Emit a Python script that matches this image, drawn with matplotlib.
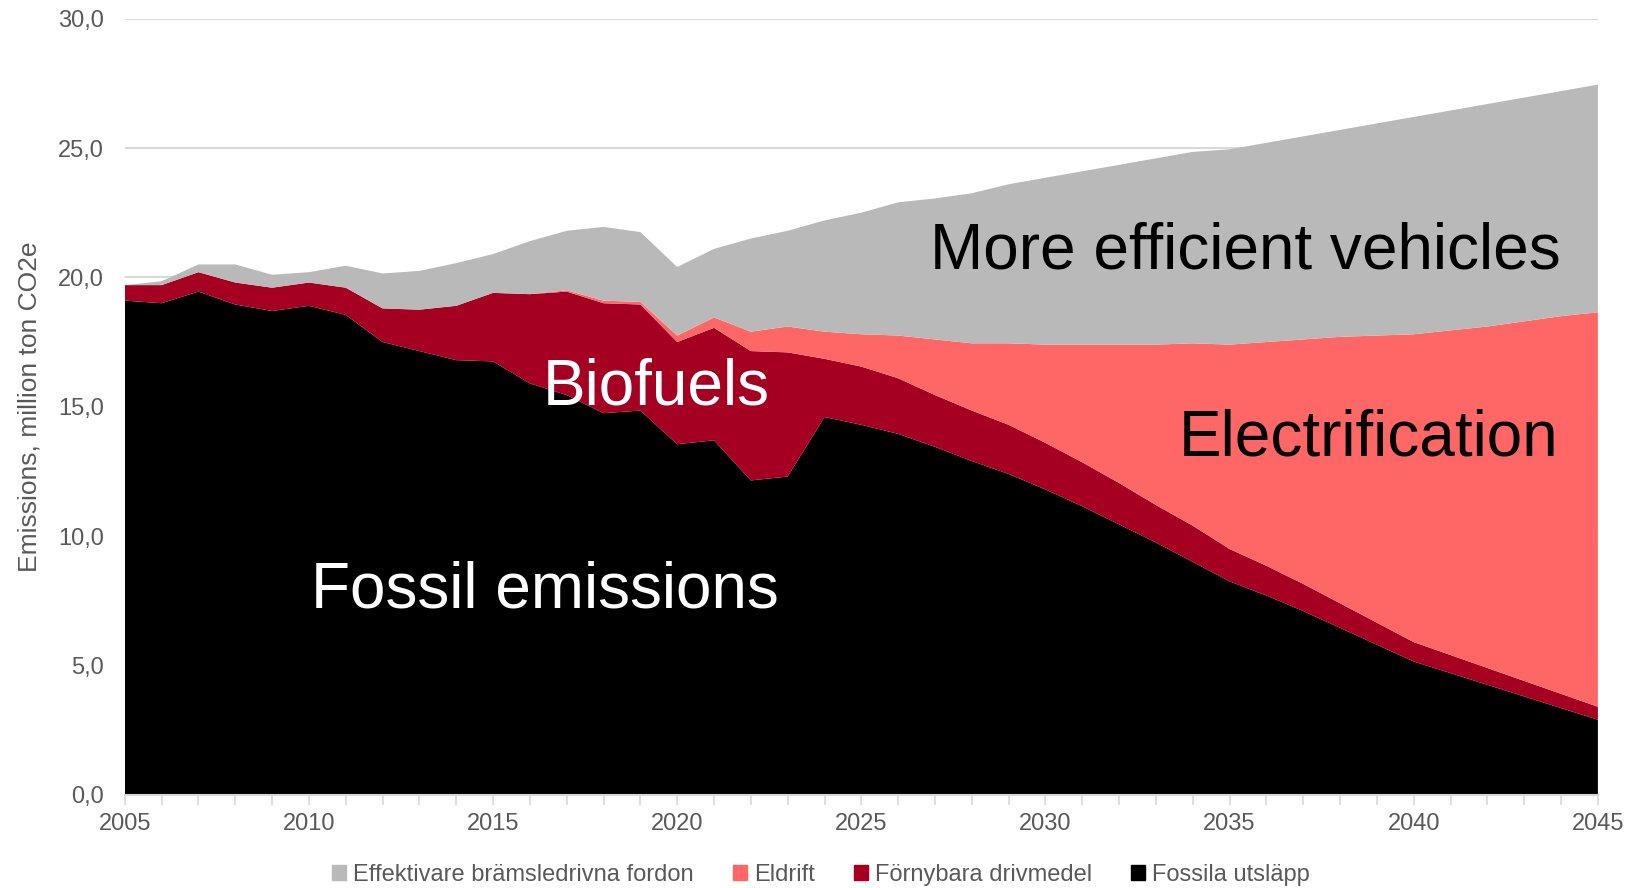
import numpy as np
import matplotlib.pyplot as plt
from matplotlib.patches import Patch
from matplotlib.ticker import FuncFormatter, MultipleLocator

plt.rcParams['font.family'] = ['Liberation Sans', 'DejaVu Sans']

years = np.arange(2005, 2046)

# million ton CO2e per category, stacked bottom to top
fossila = [19.1, 19.0, 19.45, 18.95, 18.7, 18.9, 18.55, 17.5, 17.15, 16.8,
           16.75, 15.9, 15.45, 14.75, 14.85, 13.55, 13.7, 12.15, 12.3, 14.6,
           14.3, 13.95, 13.45, 12.9, 12.4, 11.8, 11.15, 10.45, 9.75, 9.0,
           8.25, 7.7, 7.1, 6.45, 5.8, 5.15, 4.7, 4.25, 3.8, 3.35, 2.9]
fornybara = [0.6, 0.7, 0.75, 0.85, 0.9, 0.9, 1.05, 1.3, 1.6, 2.1,
             2.65, 3.45, 4.0, 4.25, 4.1, 3.95, 4.35, 5.0, 4.8, 2.25,
             2.25, 2.15, 2.0, 1.95, 1.9, 1.8, 1.7, 1.6, 1.45, 1.4,
             1.25, 1.15, 1.05, 0.95, 0.85, 0.75, 0.7, 0.65, 0.6, 0.55, 0.5]
eldrift = [0.0, 0.0, 0.0, 0.0, 0.0, 0.0, 0.0, 0.0, 0.0, 0.0,
           0.0, 0.0, 0.05, 0.1, 0.1, 0.25, 0.4, 0.75, 1.0, 1.05,
           1.25, 1.65, 2.15, 2.6, 3.15, 3.8, 4.55, 5.35, 6.2, 7.05,
           7.9, 8.65, 9.45, 10.3, 11.1, 11.9, 12.55, 13.2, 13.9, 14.6, 15.25]
effektivare = [0.0, 0.15, 0.3, 0.7, 0.5, 0.4, 0.85, 1.35, 1.5, 1.65,
               1.5, 2.05, 2.3, 2.85, 2.7, 2.65, 2.65, 3.6, 3.7, 4.3,
               4.7, 5.15, 5.45, 5.8, 6.15, 6.45, 6.7, 6.95, 7.2, 7.4,
               7.55, 7.7, 7.85, 8.0, 8.2, 8.4, 8.5, 8.6, 8.65, 8.7, 8.8]

labels = ['Fossila utsläpp', 'Förnybara drivmedel', 'Eldrift',
          'Effektivare brämsledrivna fordon']
colors = ['#000000', '#a50021', '#ff6666', '#b9b9b9']

fig = plt.figure(figsize=(16.29, 8.88), dpi=100)
ax = fig.add_axes([0.0766, 0.105, 0.9043, 0.874])

ax.stackplot(years, fossila, fornybara, eldrift, effektivare,
             colors=colors, linewidth=0, zorder=2)

ax.set_xlim(2005, 2045)
ax.set_ylim(0, 30)
ax.yaxis.set_major_locator(MultipleLocator(5))
ax.yaxis.set_major_formatter(FuncFormatter(lambda v, p: f'{v:.1f}'.replace('.', ',')))
ax.xaxis.set_major_locator(MultipleLocator(5))
ax.xaxis.set_minor_locator(MultipleLocator(1))
ax.grid(axis='y', color='#d9d9d9', linewidth=1.5, zorder=0)
ax.set_axisbelow(True)

for s in ['top', 'right', 'left']:
    ax.spines[s].set_visible(False)
ax.spines['bottom'].set_color('#d9d9d9')
ax.spines['bottom'].set_linewidth(1.5)
ax.spines['bottom'].set_zorder(3)

ax.tick_params(axis='y', length=0, pad=15, labelsize=17, labelcolor='#595959')
ax.tick_params(axis='x', which='both', length=7, width=1.2, color='#d9d9d9',
               pad=6, labelsize=17, labelcolor='#595959')
ax.set_ylabel('Emissions, million ton CO2e', fontsize=19, color='#595959', labelpad=12)

# category annotations inside the areas
ax.text(2026.87, 20.36, 'More efficient vehicles', fontsize=46, color='black', va='baseline')
ax.text(2016.34, 15.07, 'Biofuels', fontsize=46, color='white', va='baseline')
ax.text(2033.63, 13.13, 'Electrification', fontsize=46, color='black', va='baseline')
ax.text(2010.07, 7.23, 'Fossil emissions', fontsize=46, color='white', va='baseline')

handles = [Patch(color=colors[3], label=labels[3]),
           Patch(color=colors[2], label=labels[2]),
           Patch(color=colors[1], label=labels[1]),
           Patch(color=colors[0], label=labels[0])]
fig.legend(handles=handles, loc='center', bbox_to_anchor=(0.504, 0.0145), ncol=4,
           frameon=False, fontsize=17, labelcolor='#595959',
           handlelength=0.6, handleheight=0.6, handletextpad=0.3, columnspacing=1.65)

fig.savefig('out.png', dpi=100)
